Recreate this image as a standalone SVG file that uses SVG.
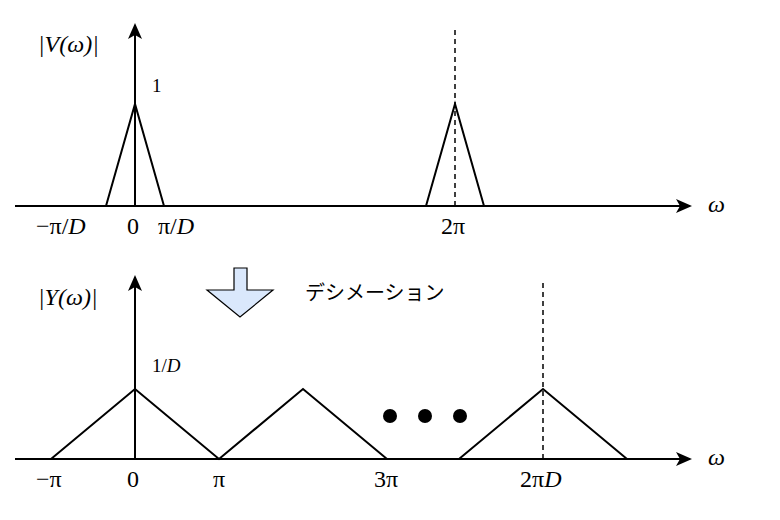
<svg xmlns="http://www.w3.org/2000/svg" width="780" height="520" viewBox="0 0 780 520">
<style>
.l{stroke:#000;stroke-width:2;fill:none}
.d{stroke:#000;stroke-width:1.5;stroke-dasharray:5,4;fill:none}
.m{font-family:"Liberation Serif",serif;font-size:24px;font-style:italic}
.n{font-family:"Liberation Serif",serif;font-size:24px}
.s{font-family:"Liberation Serif",serif;font-size:19px}
</style>
<defs>
<marker id="b" markerWidth="16" markerHeight="16" refX="14" refY="8" orient="auto" markerUnits="userSpaceOnUse" viewBox="0 0 16 16"><path d="M0,1 L16,8 L0,15 L4,8z"/></marker></defs>
<rect width="780" height="520" fill="#fff"/>
<g id="connectors">
<line class="l" x1="15" y1="206" x2="690" y2="206" marker-end="url(#b)"/>
<line class="l" x1="135" y1="206" x2="135" y2="25" marker-end="url(#b)"/>
<line class="l" x1="15" y1="459" x2="690" y2="459" marker-end="url(#b)"/>
<line class="l" x1="135" y1="459" x2="135" y2="277" marker-end="url(#b)"/>
<line class="d" x1="455" y1="30" x2="455" y2="206"/>
<line class="d" x1="543" y1="283" x2="543" y2="459"/>
</g>
<g id="top-spectrum">
<polyline class="l" points="106,206 135,104 164,206"/>
<polyline class="l" points="426,206 455,104 484,206"/>
</g>
<g id="bottom-spectrum">
<polyline class="l" points="51,459 135,389 219,459 303,389 387,459"/>
<polyline class="l" points="459,459 543,389 627,459"/>
<circle cx="390" cy="416" r="7"/><circle cx="425" cy="416" r="7"/><circle cx="460" cy="416" r="7"/>
</g>
<g id="arrow"><path d="M234,268 H247 V290 H273 L240,317 L207,290 H234 Z" fill="#dae8fc" stroke="#000" stroke-width="1.2"/></g>
<g id="labels">
<text class="m" x="38" y="52">|V(ω)|</text>
<text class="s" x="152" y="92">1</text>
<text class="m" x="36" y="234"><tspan font-style="normal">−π/</tspan>D</text>
<text class="n" x="127" y="234">0</text>
<text class="m" x="158" y="234"><tspan font-style="normal">π/</tspan>D</text>
<text class="n" x="441" y="234">2π</text>
<text class="m" x="708" y="212">ω</text>
<text class="m" x="38" y="305">|Y(ω)|</text>
<text x="152" y="372" font-family="'Liberation Serif',serif" font-size="19px">1/<tspan font-style="italic">D</tspan></text>
<text class="n" x="36" y="487">−π</text>
<text class="n" x="127" y="487">0</text>
<text class="n" x="213" y="487">π</text>
<text class="n" x="374" y="487">3π</text>
<text class="m" x="520" y="487"><tspan font-style="normal">2π</tspan>D</text>
<text class="m" x="708" y="465">ω</text>
<text x="305" y="300" font-family="'Noto Sans CJK JP',sans-serif" font-size="20">デシメーション</text>
</g>
</svg>
